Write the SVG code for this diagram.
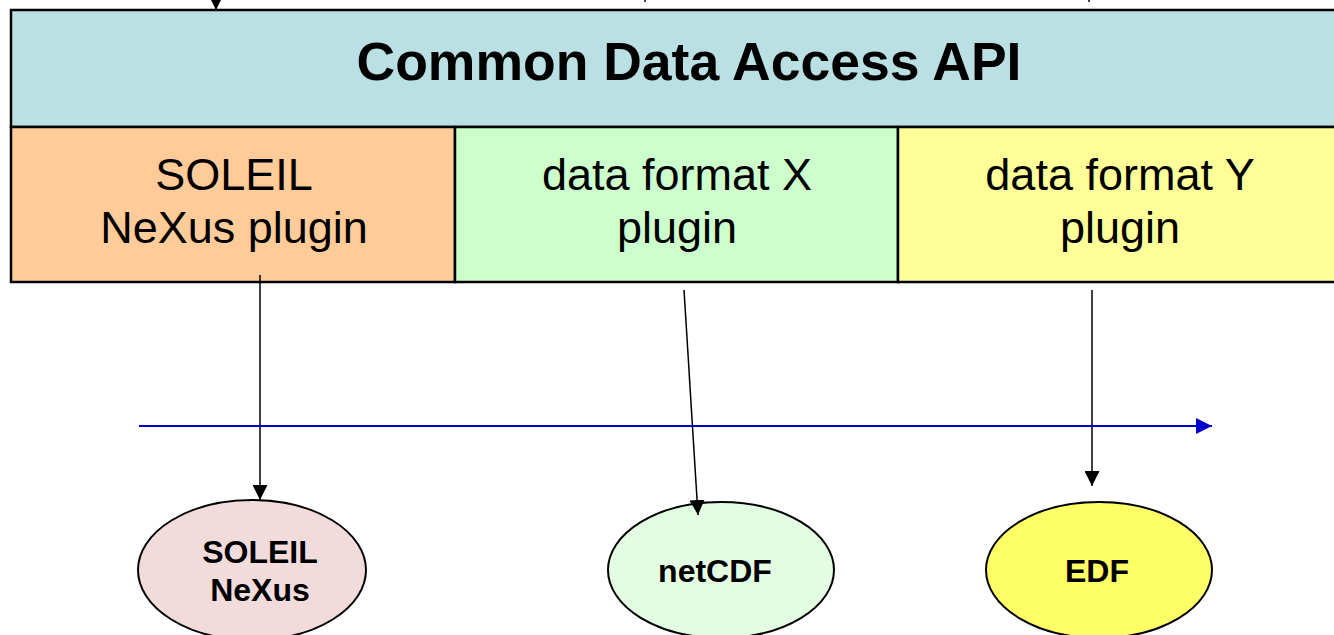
<svg xmlns="http://www.w3.org/2000/svg" width="1334" height="635" viewBox="0 0 1334 635">
<style>
.box{stroke:#000;stroke-width:2.5}
.big{font-family:"Liberation Sans",Arial,sans-serif;font-size:45px;text-anchor:middle;fill:#000}
.title{font-family:"Liberation Sans",Arial,sans-serif;font-size:53.5px;font-weight:bold;text-anchor:middle;fill:#000}
.small{font-family:"Liberation Sans",Arial,sans-serif;font-size:32px;font-weight:bold;text-anchor:middle;fill:#000}
.ell{stroke:#000;stroke-width:2}
.con{stroke:#000;stroke-width:1.5;fill:none;marker-end:url(#ah)}
</style>
<defs>
<marker id="ah" viewBox="0 0 10 10" refX="10" refY="5" markerWidth="15" markerHeight="15" markerUnits="userSpaceOnUse" orient="auto"><path d="M0,0 L10,5 L0,10 z" fill="#000"/></marker>
<marker id="bh" viewBox="0 0 10 10" refX="10" refY="5" markerWidth="16" markerHeight="16" markerUnits="userSpaceOnUse" orient="auto"><path d="M0,0 L10,5 L0,10 z" fill="#0000cc"/></marker>
</defs>
<g id="api">
<rect class="box" x="11" y="10" width="1330" height="117" fill="#bbe0e3"/>
<text class="title" x="689" y="80">Common Data Access API</text>
</g>
<g id="plugin-soleil">
<rect class="box" x="11" y="127" width="444" height="155" fill="#ffcc99"/>
<text class="big" x="234" y="190">SOLEIL</text>
<text class="big" x="234" y="243">NeXus plugin</text>
</g>
<g id="plugin-x">
<rect class="box" x="455" y="127" width="443" height="155" fill="#ccffcc"/>
<text class="big" x="677" y="190">data format X</text>
<text class="big" x="677" y="243">plugin</text>
</g>
<g id="plugin-y">
<rect class="box" x="898" y="127" width="443" height="155" fill="#ffff99"/>
<text class="big" x="1120" y="190">data format Y</text>
<text class="big" x="1120" y="243">plugin</text>
</g>
<g id="node-soleil">
<ellipse class="ell" cx="252" cy="570" rx="114" ry="70" fill="#f2dcdb"/>
<text class="small" x="260" y="563">SOLEIL</text>
<text class="small" x="260" y="601">NeXus</text>
</g>
<g id="node-netcdf">
<ellipse class="ell" cx="721" cy="570" rx="113" ry="68" fill="#e3fde3"/>
<text class="small" x="715" y="582">netCDF</text>
</g>
<g id="node-edf">
<ellipse class="ell" cx="1099" cy="570" rx="113" ry="68" fill="#ffff66"/>
<text class="small" x="1097" y="582">EDF</text>
</g>
<g id="connectors">
<line class="con" x1="216" y1="0" x2="216" y2="10"/>
<line x1="645" y1="0" x2="645" y2="2" stroke="#000" stroke-width="1.5"/>
<line x1="1089" y1="0" x2="1089" y2="2" stroke="#000" stroke-width="1.5"/>
<line class="con" x1="260" y1="275" x2="260" y2="500"/>
<line class="con" x1="684" y1="290" x2="698" y2="515"/>
<line class="con" x1="1092" y1="290" x2="1092" y2="486"/>
<line x1="139" y1="426" x2="1212" y2="426" stroke="#0000cc" stroke-width="2" marker-end="url(#bh)"/>
</g>
</svg>
